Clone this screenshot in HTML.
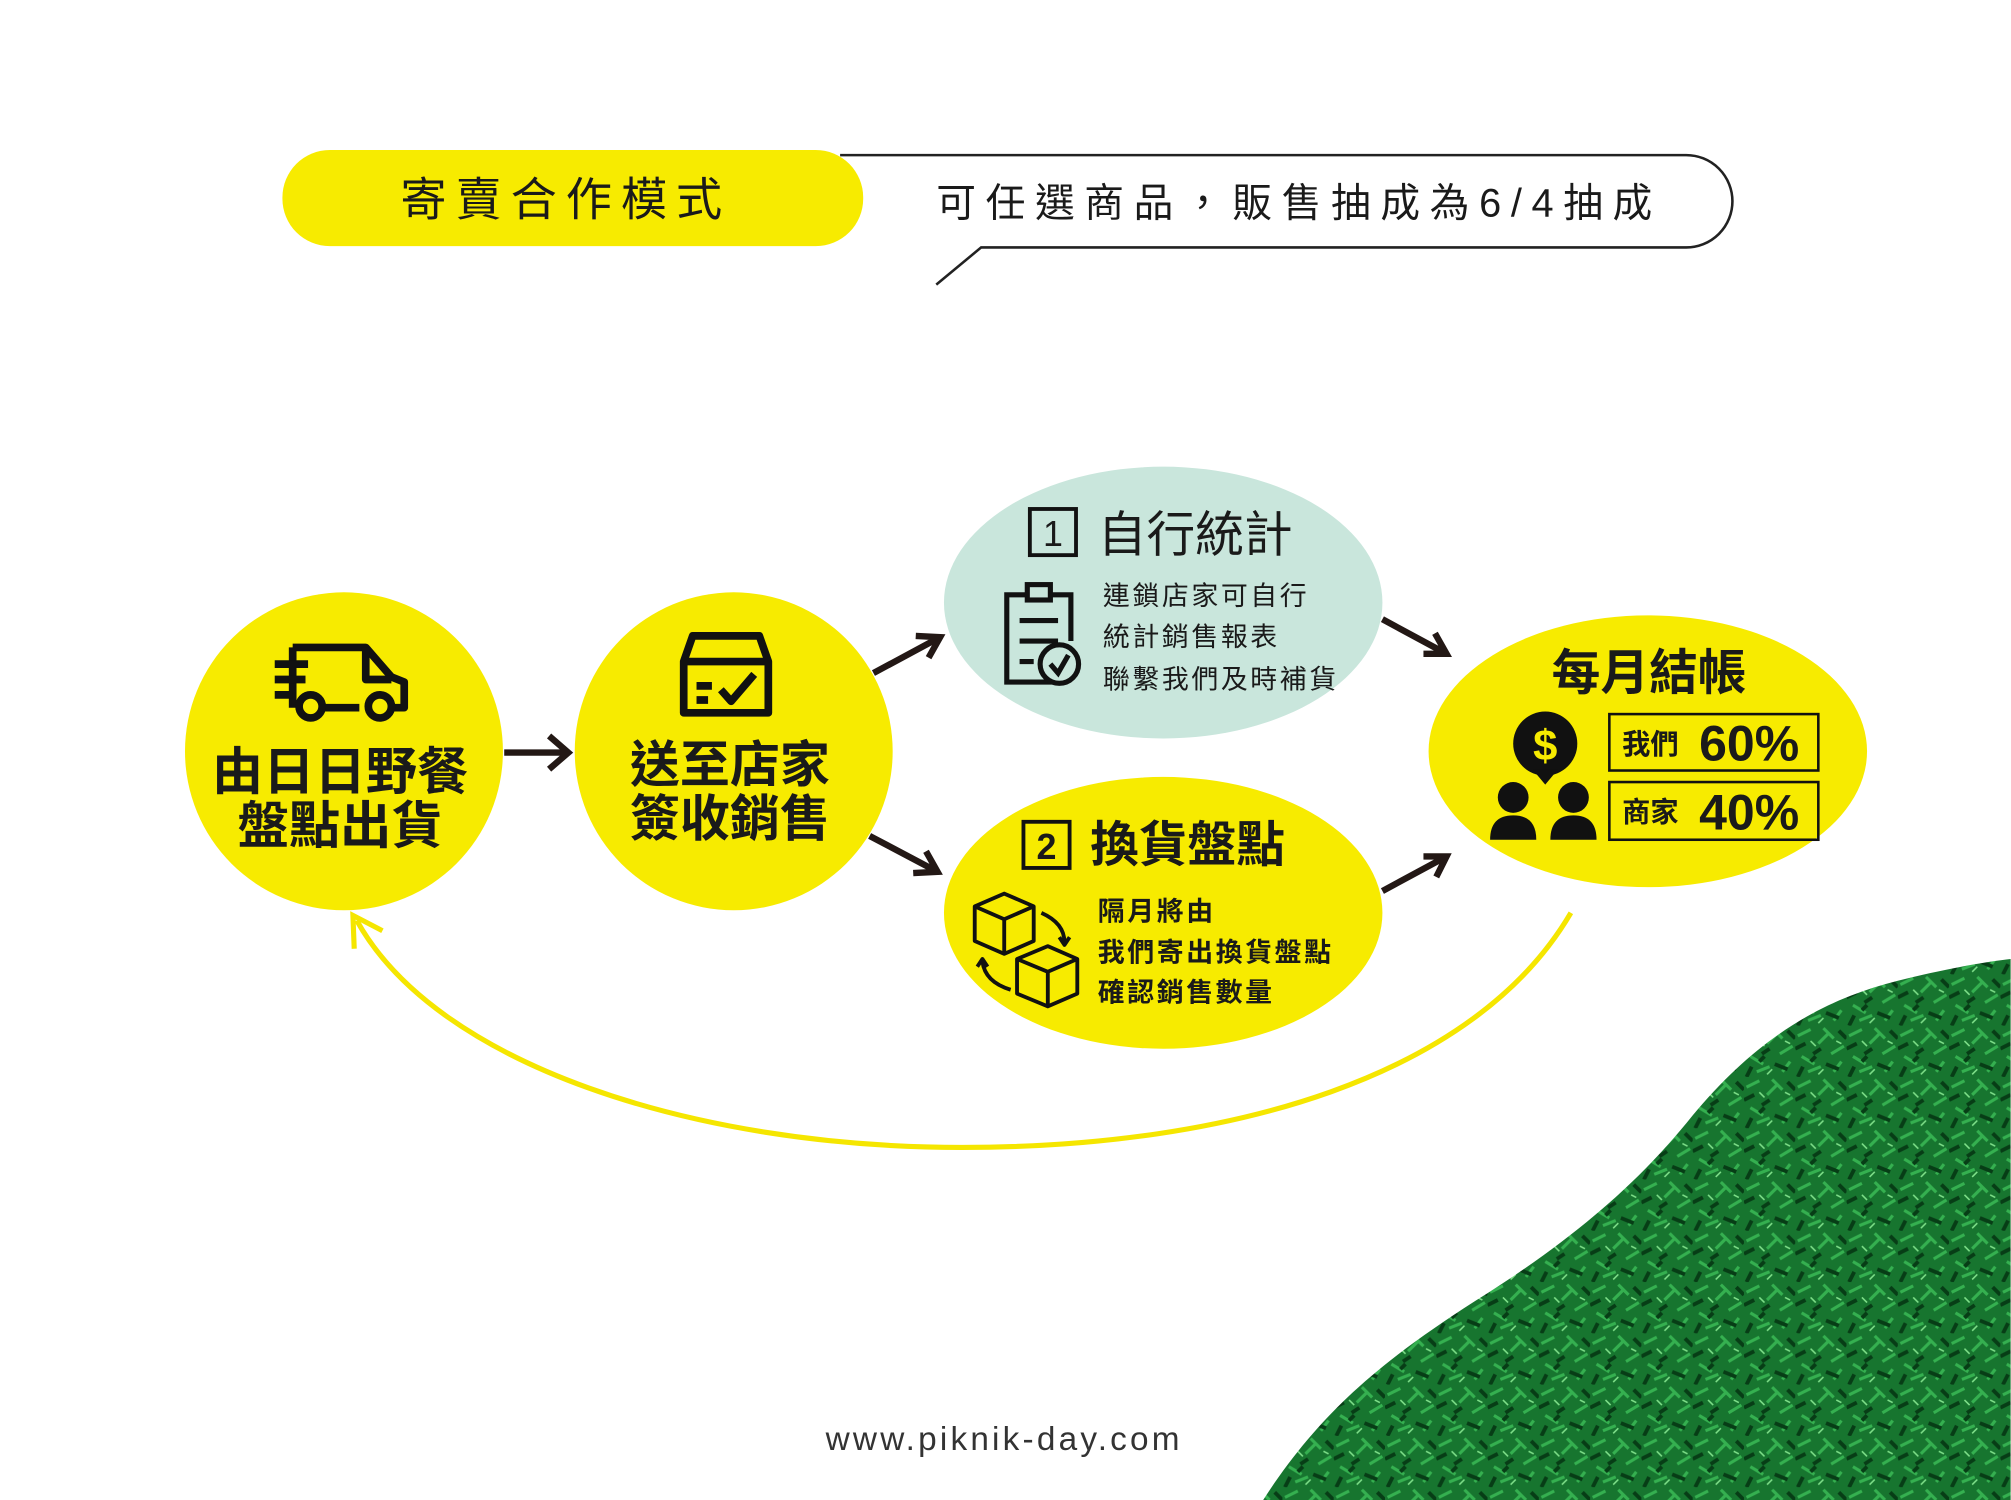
<!DOCTYPE html>
<html><head><meta charset="utf-8"><style>
html,body{margin:0;padding:0;background:#fff;width:2011px;height:1500px;overflow:hidden}
svg{display:block}
text{font-family:"Liberation Sans","Noto Sans CJK TC",sans-serif;fill:#1a1a1a}
</style></head><body>
<svg width="2011" height="1500" viewBox="0 0 1568 1170" xmlns="http://www.w3.org/2000/svg">
<defs>
<pattern id="grass" width="40" height="40" patternUnits="userSpaceOnUse">
<rect width="40" height="40" fill="#17752f"/>
<path d="M2 8 L12 3 M18 14 L26 6 M5 24 L15 30 M28 22 L38 16 M10 36 L20 32 M30 36 L36 28 M22 2 L30 10" stroke="#35b050" stroke-width="2.4"/>
<path d="M0 18 L8 14 M14 22 L20 18 M24 30 L34 34 M34 4 L40 10 M6 32 L2 40 M12 28 L16 24" stroke="#073d16" stroke-width="3"/>
<path d="M12 12 L16 16 M32 12 L36 14 M18 38 L22 34" stroke="#7fe08a" stroke-width="1.2"/>
</pattern>
</defs>
<rect width="1568" height="1170" fill="#fff"/>
<path d="M985 1170 C1030 1100 1080 1060 1150 1015 C1230 965 1280 920 1320 870 C1370 810 1420 780 1480 765 C1520 755 1550 750 1568 748 L1568 1170 Z" fill="url(#grass)"/>
<path d="M655 121 L1315 121 A36 36 0 0 1 1315 193 L765 193 L730 222" fill="none" stroke="#222" stroke-width="2"/>
<rect x="220" y="117" width="453" height="75" rx="37" fill="#f7eb00"/>
<text x="441" y="168" font-size="36" text-anchor="middle" letter-spacing="7">寄賣合作模式</text>
<text x="730" y="169" font-size="31" letter-spacing="7.5">可任選商品，販售抽成為6/4抽成</text>
<path d="M1225 712 C1150 840 960 895 750 895 C540 895 340 830 278 718" fill="none" stroke="#f5e600" stroke-width="4"/>
<path d="M276 740 L275 714 L298 726" fill="none" stroke="#f5e600" stroke-width="4"/>
<circle cx="268" cy="586" r="124" fill="#f7eb00"/>
<circle cx="572" cy="586" r="124" fill="#f7eb00"/>
<ellipse cx="907" cy="470" rx="171" ry="106" fill="#c9e6dc"/>
<ellipse cx="907" cy="712" rx="171" ry="106" fill="#f7eb00"/>
<ellipse cx="1285" cy="586" rx="171" ry="106" fill="#f7eb00"/>
<g stroke="#231815" stroke-width="5" fill="none">
<path d="M393 587 L443 587 M428 574 L443 587 L428 600"/>
<path d="M681 525 L733 497 M714 496 L733 497 L724 513"/>
<path d="M678 652 L731 680 M722 664 L731 680 L712 681"/>
<path d="M1078 483 L1128 510 M1110 510 L1128 510 L1119 494"/>
<path d="M1078 695 L1128 668 M1120 684 L1128 668 L1110 668"/>
</g>
<g fill="none" stroke="#111" stroke-width="6" stroke-linejoin="round">
<path d="M228 505 L285 505 L305 528 L315 532 L315 552 L305 552 M280 552 L252 552 M228 552 L228 505"/>
<path d="M285 505 L285 530 L305 530"/>
<circle cx="242" cy="551" r="9"/><circle cx="296" cy="551" r="9"/>
<path d="M214 518 L240 518 M214 530 L238 530 M214 542 L228 542"/>
</g>
<text x="265" y="616" font-size="40" font-weight="bold" text-anchor="middle">由日日野餐</text>
<text x="265" y="658" font-size="40" font-weight="bold" text-anchor="middle">盤點出貨</text>
<g fill="none" stroke="#111" stroke-width="6" stroke-linejoin="round">
<path d="M540 496 L592 496 L599 516 L599 556 L533 556 L533 516 Z M533 516 L599 516"/>
<path d="M543 535 L555 535 M543 546 L552 546 M562 538 L570 547 L588 526"/>
</g>
<text x="569" y="610" font-size="39" font-weight="bold" text-anchor="middle">送至店家</text>
<text x="569" y="652" font-size="39" font-weight="bold" text-anchor="middle">簽收銷售</text>
<rect x="803" y="397" width="36" height="36" fill="none" stroke="#111" stroke-width="3"/>
<text x="821" y="426" font-size="28" text-anchor="middle">1</text>
<text x="856" y="430" font-size="38">自行統計</text>
<g fill="none" stroke="#111" stroke-width="4">
<path d="M820 532 L785 532 L785 464 L800 464 M820 464 L835 464 L835 500"/>
<rect x="801" y="456" width="18" height="12"/>
<path d="M795 484 L825 484 M795 500 L825 500 M795 516 L806 516"/>
<circle cx="826" cy="518" r="15" fill="#c9e6dc"/>
<path d="M819 518 L825 525 L833 511"/>
</g>
<text x="860" y="472" font-size="21" letter-spacing="2">連鎖店家可自行</text>
<text x="860" y="504" font-size="21" letter-spacing="2">統計銷售報表</text>
<text x="860" y="537" font-size="21" letter-spacing="2">聯繫我們及時補貨</text>
<rect x="798" y="641" width="36" height="36" fill="none" stroke="#111" stroke-width="3"/>
<text x="816" y="670" font-size="28" text-anchor="middle" font-weight="bold">2</text>
<text x="850" y="672" font-size="38" font-weight="bold">換貨盤點</text>
<g fill="none" stroke="#111" stroke-width="3" stroke-linejoin="round">
<path d="M760 707 L783 697 L806 707 L806 734 L783 744 L760 734 Z M760 707 L783 717 L806 707 M783 717 L783 744"/>
<path d="M793 748 L817 738 L840 748 L840 775 L817 785 L793 775 Z M793 748 L817 758 L840 748 M817 758 L817 785"/>
<path d="M812 712 Q830 720 830 735 M826 731 L830 737 L834 731"/>
<path d="M788 772 Q768 766 766 750 M762 754 L766 748 L770 754"/>
</g>
<text x="856" y="718" font-size="21" font-weight="bold" letter-spacing="2">隔月將由</text>
<text x="856" y="750" font-size="21" font-weight="bold" letter-spacing="2">我們寄出換貨盤點</text>
<text x="856" y="781" font-size="21" font-weight="bold" letter-spacing="2">確認銷售數量</text>
<text x="1286" y="538" font-size="38" font-weight="bold" text-anchor="middle">每月結帳</text>
<circle cx="1205" cy="580" r="25" fill="#111"/>
<path d="M1195 600 L1205 612 L1215 600 Z" fill="#111"/>
<text x="1205" y="593" font-size="34" font-weight="bold" text-anchor="middle" style="fill:#f7eb00">$</text>
<circle cx="1180" cy="622" r="12" fill="#111"/><path d="M1162 655 Q1162 636 1180 636 Q1198 636 1198 655 Z" fill="#111"/>
<circle cx="1227" cy="622" r="12" fill="#111"/><path d="M1209 655 Q1209 636 1227 636 Q1245 636 1245 655 Z" fill="#111"/>
<rect x="1255" y="557" width="163" height="44" fill="none" stroke="#111" stroke-width="2"/>
<rect x="1255" y="610" width="163" height="45" fill="none" stroke="#111" stroke-width="2"/>
<text x="1265" y="588" font-size="22" font-weight="bold">我們</text>
<text x="1325" y="593" font-size="39" font-weight="bold">60%</text>
<text x="1265" y="641" font-size="22" font-weight="bold">商家</text>
<text x="1325" y="647" font-size="39" font-weight="bold">40%</text>
<text x="783" y="1131" font-size="26" text-anchor="middle" letter-spacing="2.5" style="fill:#333">www.piknik-day.com</text>
</svg>
</body></html>
